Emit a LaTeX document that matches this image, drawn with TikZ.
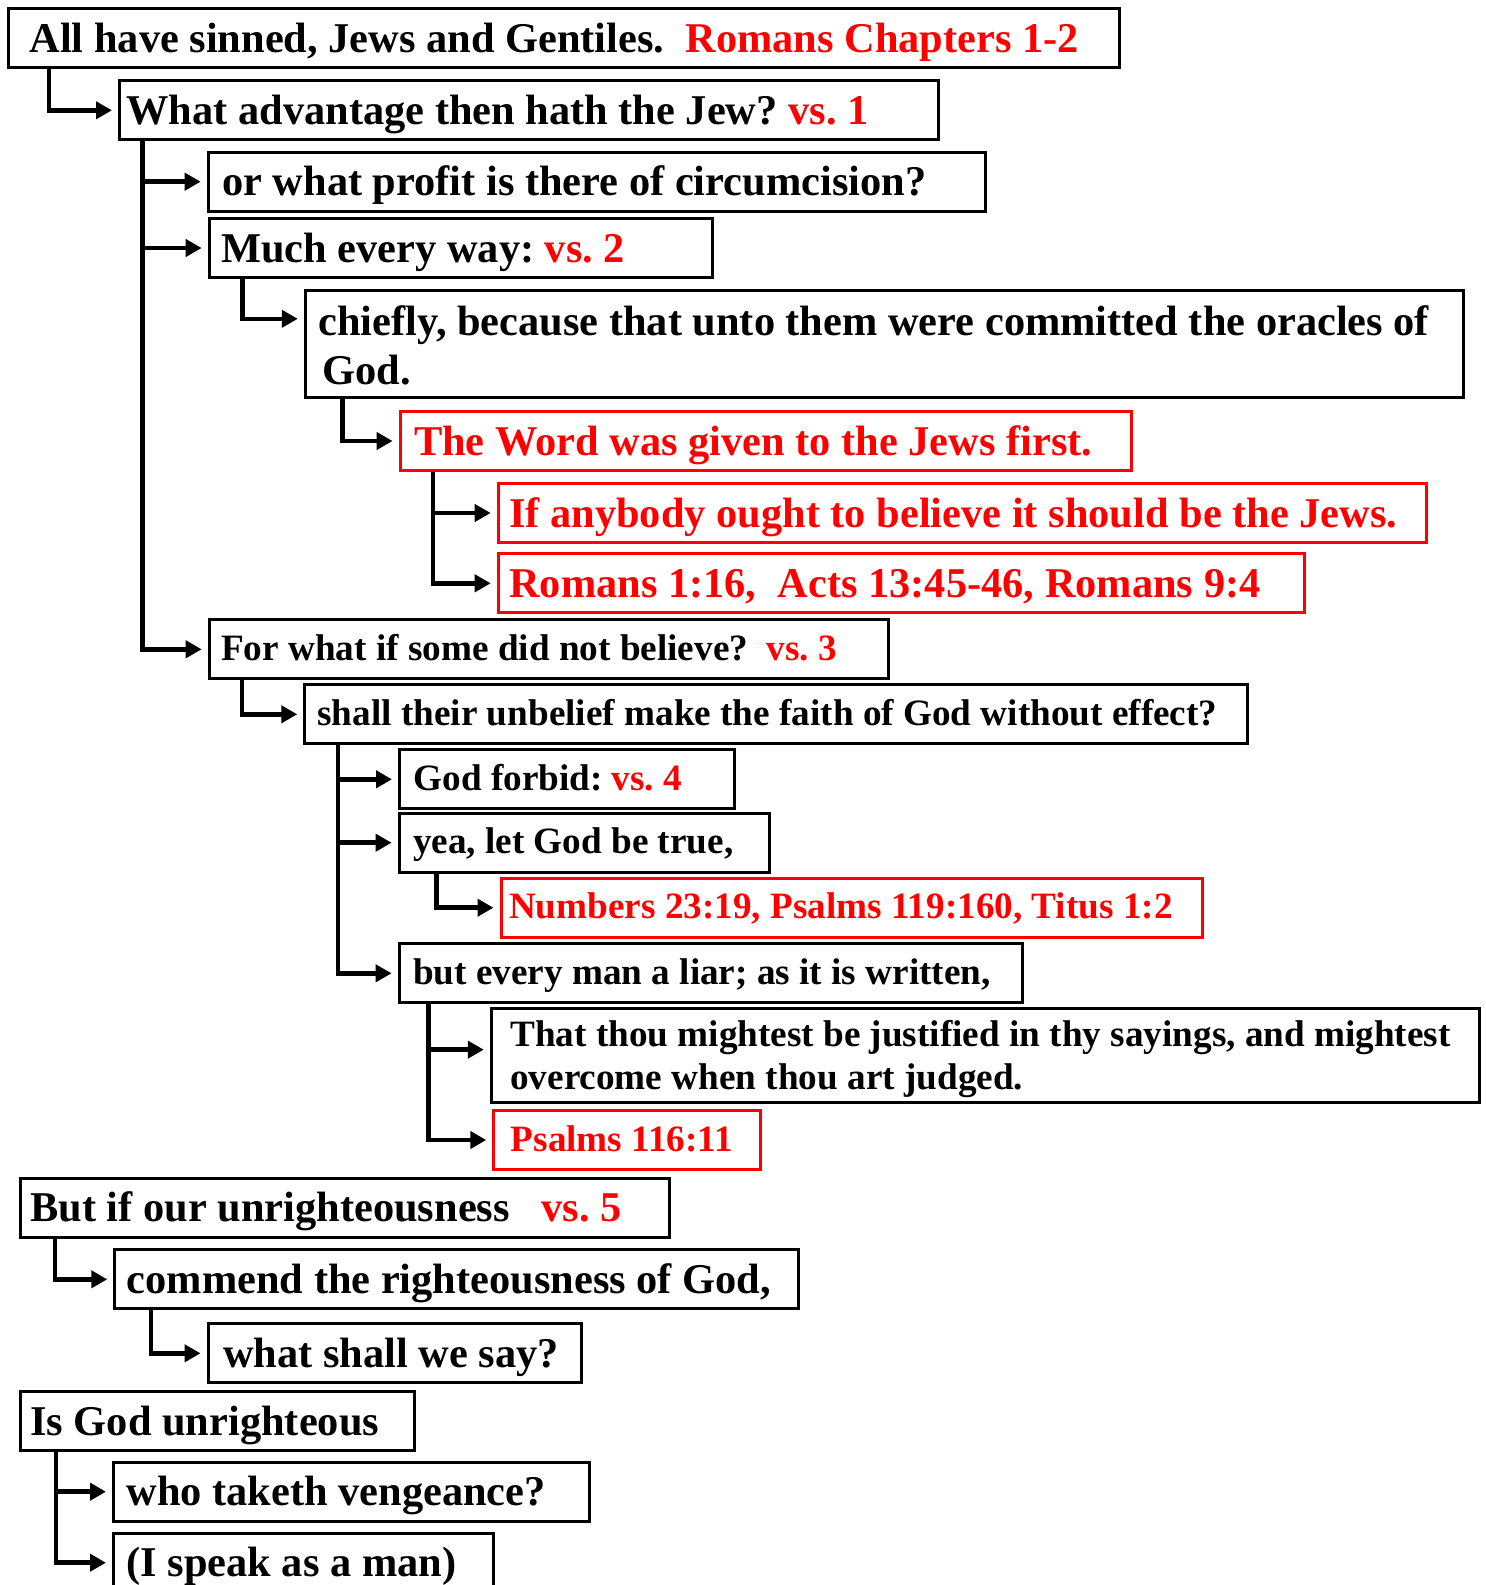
\documentclass[tikz,border=0pt]{standalone}
\usepackage{fontspec}
\setmainfont{Liberation Serif}
\usetikzlibrary{arrows.meta}
\tikzset{
  box/.style={draw,line width=1.5pt,anchor=north west,align=flush left,inner ysep=0pt,minimum height=29.5pt},
  big/.style={font=\fontsize{21.2}{24.6}\selectfont\bfseries,text height=19pt,text depth=5pt},
  small/.style={font=\fontsize{18.6}{21.6}\selectfont\bfseries,text height=15.5pt,text depth=4.5pt},
  hot/.style={draw=red,text=red},
  link/.style={line width=2.3pt,-{Triangle[length=8pt,width=8.5pt]},shorten >=3pt}
}
\frenchspacing
\begin{document}
\begin{tikzpicture}[x=0.5pt,y=-0.5pt]
\useasboundingbox(0,0)rectangle(1486,1585);
\node[box,big,inner xsep=10.5pt,text width=534.25pt](kAll)at(7,7.3){All have sinned, Jews and Gentiles.\ \ {\color{red}Romans Chapters 1-2}};
\node[box,big,inner xsep=3.5pt,text width=402.3pt](kAdv)at(118,79.3){What advantage then hath the Jew? {\color{red}vs. 1}};
\node[box,big,inner xsep=7pt,text width=374.65pt](kProfit)at(206.7,150.7){or what profit is there of circumcision?};
\node[box,big,inner xsep=6pt,text width=239.4pt](kMuch)at(207.7,217){Much every way: {\color{red}vs. 2}};
\node[box,big,inner xsep=6.5pt,text width=566.1pt,minimum height=53.2pt,text depth=27.5pt](kChief)at(303.8,289.3){\mbox{chiefly, because that unto them were committed the oracles of}\\\hspace*{2pt}God.};
\node[box,big,hot,inner xsep=7pt,text width=351.5pt](kWord)at(398.6,410){The Word was given to the Jews first.};
\node[box,big,hot,inner xsep=5.5pt,text width=453.15pt](kJews)at(496.7,482){\mbox{If anybody ought to believe it should be the Jews.}};
\node[box,big,hot,inner xsep=5.5pt,text width=392.15pt](kRefA)at(496.7,552.3){Romans 1:16,\ \ Acts 13:45-46, Romans 9:4};
\node[box,small,inner xsep=6pt,text width=327.4pt](kFor)at(207.7,618.3){For what if some did not believe?\ \ {\color{red}vs. 3}};
\node[box,small,inner xsep=6.35pt,text width=458.85pt](kShall)at(303.3,683.3){shall their unbelief make the faith of God without effect?};
\node[box,small,inner xsep=7pt,text width=153.3pt](kForbid)at(398,748.3){God forbid: {\color{red}vs. 4}};
\node[box,small,inner xsep=7pt,text width=171.05pt](kYea)at(397.6,811.7){yea, let God be true,};
\node[box,small,hot,inner xsep=4pt,text width=342.75pt](kRefB)at(499.5,876.7){Numbers 23:19, Psalms 119:160, Titus 1:2};
\node[box,small,inner xsep=7pt,text width=297.6pt](kLiar)at(397.6,942.3){but every man a liar; as it is written,};
\node[box,small,inner xsep=9.5pt,text width=475.3pt,minimum height=46.85pt,text depth=24.7pt](kThat)at(489.8,1007.3){\mbox{That thou mightest be justified in thy sayings, and mightest}\\overcome when thou art judged.};
\node[box,small,hot,inner xsep=8.5pt,text width=116.2pt](kPsa)at(492.3,1109){Psalms 116:11};
\node[box,big,inner xsep=5pt,text width=314.75pt](kBut)at(18.9,1176.7){But if our unrighteousness\ \ \ {\color{red}vs. 5}};
\node[box,big,inner xsep=6pt,text width=329.85pt](kComm)at(113.3,1248.3){commend the righteousness of God,};
\node[box,big,inner xsep=7.5pt,text width=171.7pt](kSay)at(206.6,1322.3){what shall we say?};
\node[box,big,inner xsep=5pt,text width=187.2pt](kIs)at(18.9,1390){Is God unrighteous};
\node[box,big,inner xsep=6.5pt,text width=225pt](kWho)at(112,1460.7){who taketh vengeance?};
\node[box,big,inner xsep=6.5pt,text width=177.15pt](kMan)at(112,1531.7){(I speak as a man)};
\draw[link]([xshift=21pt]kAll.south west)|-(kAdv.west);
\draw[link]([xshift=12.3pt]kAdv.south west)|-(kProfit.west);
\draw[link]([xshift=12.3pt]kAdv.south west)|-(kMuch.west);
\draw[link]([xshift=12.3pt]kAdv.south west)|-(kFor.west);
\draw[link]([xshift=17.5pt]kMuch.south west)|-([yshift=-14.75pt]kChief.north west);
\draw[link]([xshift=19.4pt]kChief.south west)|-(kWord.west);
\draw[link]([xshift=17.2pt]kWord.south west)|-(kJews.west);
\draw[link]([xshift=17.2pt]kWord.south west)|-(kRefA.west);
\draw[link]([xshift=17.2pt]kFor.south west)|-(kShall.west);
\draw[link]([xshift=17.3pt]kShall.south west)|-(kForbid.west);
\draw[link]([xshift=17.3pt]kShall.south west)|-(kYea.west);
\draw[link]([xshift=17.3pt]kShall.south west)|-(kLiar.west);
\draw[link]([xshift=19.4pt]kYea.south west)|-(kRefB.west);
\draw[link]([xshift=15.5pt]kLiar.south west)|-([yshift=3pt]kThat.west);
\draw[link]([xshift=15.5pt]kLiar.south west)|-(kPsa.west);
\draw[link]([xshift=18pt]kBut.south west)|-(kComm.west);
\draw[link]([xshift=18.9pt]kComm.south west)|-(kSay.west);
\draw[link]([xshift=18.5pt]kIs.south west)|-(kWho.west);
\draw[link]([xshift=18.5pt]kIs.south west)|-(kMan.west);
\end{tikzpicture}
\end{document}
